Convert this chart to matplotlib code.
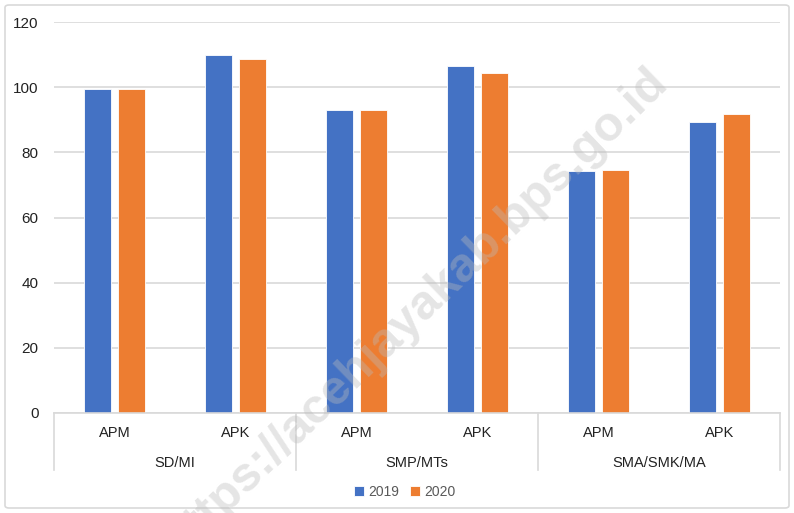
import matplotlib
matplotlib.use("Agg")
import matplotlib.pyplot as plt
import numpy as np
from matplotlib.patches import FancyBboxPatch

groups = ["SD/MI", "SMP/MTs", "SMA/SMK/MA"]
indicators = ["APM", "APK"]
years = ["2019", "2020"]
values_2019 = [99.4, 109.8, 92.9, 106.5, 74.2, 89.2]
values_2020 = [99.4, 108.5, 92.9, 104.3, 74.5, 91.9]
colors = ["#4472C4", "#ED7D31"]

plt.rcParams["font.family"] = ["Liberation Sans", "DejaVu Sans"]

fig = plt.figure(figsize=(7.94, 5.13), dpi=100)
W, H = 794, 513
ax = fig.add_axes([54 / W, (H - 413) / H, (780 - 54) / W, (413 - 22) / H])

n = len(values_2019)
x = np.arange(n)
bw = 0.22
off = 0.14
ax.bar(x - off, values_2019, bw, color=colors[0], edgecolor="white", linewidth=0.6, label=years[0], zorder=2)
ax.bar(x + off, values_2020, bw, color=colors[1], edgecolor="white", linewidth=0.6, label=years[1], zorder=2)

ax.set_xlim(-0.5, n - 0.5)
ax.set_ylim(0, 120)
ax.set_yticks(range(0, 121, 20))
ax.tick_params(axis="y", length=0, pad=11, labelsize=11, labelcolor="#222222")
ax.yaxis.grid(True, color="#d9d9d9", linewidth=1.2, zorder=0)
for s in ["top", "right", "left"]:
    ax.spines[s].set_visible(False)
ax.spines["bottom"].set_color("#d9d9d9")
ax.spines["bottom"].set_linewidth(1.2)

ax.set_xticks([])
trans = ax.get_xaxis_transform()
ax_h = 413 - 22
for i in range(n):
    ax.text(i, -20 / ax_h, indicators[i % 2], transform=trans, ha="center", va="center",
            fontsize=10.5, color="#222222")
for g, name in enumerate(groups):
    ax.text(2 * g + 0.5, -50 / ax_h, name, transform=trans, ha="center", va="center",
            fontsize=10.5, color="#222222")
for xs in [-0.5, 1.5, 3.5, 5.5]:
    ax.plot([xs, xs], [0, -57 / ax_h], transform=trans, color="#d9d9d9", linewidth=1.2, clip_on=False)

ax.legend(loc="center", bbox_to_anchor=(405 / W, (H - 492) / H), bbox_transform=fig.transFigure,
          ncol=2, frameon=False, fontsize=10, handlelength=0.7, handleheight=0.7,
          handletextpad=0.3, columnspacing=0.8, labelcolor="#595959")

fig.patches.append(FancyBboxPatch((5 / W, 5 / H), 784 / W, 503 / H, boxstyle="round,pad=0,rounding_size=0.005",
                                  transform=fig.transFigure, fill=False, edgecolor="#d9d9d9", linewidth=1.2))

fig.text(416 / W, (H - 311) / H, "https://acehjayakab.bps.go.id", rotation=44, ha="center", va="center",
         fontsize=35, fontweight="bold", color="#bbbbbb", alpha=0.38, zorder=10)

fig.savefig("out.png", dpi=100)
